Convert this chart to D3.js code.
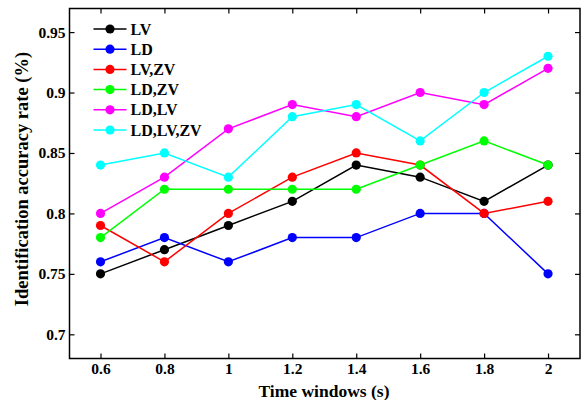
<!DOCTYPE html>
<html>
<head>
<meta charset="utf-8">
<script src="https://cdn.jsdelivr.net/npm/d3@7"></script>
<style>
  body { margin: 0; background: #fff; }
  text { font-family: "Liberation Serif", "Times New Roman", serif; font-weight: bold; }
</style>
</head>
<body>
<svg id="chart"></svg>
<script>
const W = 585, H = 400;

const timeWindows = [0.6, 0.8, 1.0, 1.2, 1.4, 1.6, 1.8, 2.0];
const xTicks = [0.6, 0.8, 1, 1.2, 1.4, 1.6, 1.8, 2];
const yTicks = [0.7, 0.75, 0.8, 0.85, 0.9, 0.95];

const seriesNames  = ['LV', 'LD', 'LV,ZV', 'LD,ZV', 'LD,LV', 'LD,LV,ZV'];
const seriesColors = ['#000000', '#0000ff', '#ff0000', '#00ff00', '#ff00ff', '#00ffff'];

const lv     = [0.75, 0.77, 0.79, 0.81, 0.84, 0.83, 0.81, 0.84];
const ld     = [0.76, 0.78, 0.76, 0.78, 0.78, 0.80, 0.80, 0.75];
const lvzv   = [0.79, 0.76, 0.80, 0.83, 0.85, 0.84, 0.80, 0.81];
const ldzv   = [0.78, 0.82, 0.82, 0.82, 0.82, 0.84, 0.86, 0.84];
const ldlv   = [0.80, 0.83, 0.87, 0.89, 0.88, 0.90, 0.89, 0.92];
const ldlvzv = [0.84, 0.85, 0.83, 0.88, 0.89, 0.86, 0.90, 0.93];

const seriesValues = [lv, ld, lvzv, ldzv, ldlv, ldlvzv];

const margin = { left: 69.5, right: 5, top: 8.5, bottom: 41.5 };
const plotW = W - margin.left - margin.right;
const plotH = H - margin.top - margin.bottom;

const svg = d3.select('#chart').attr('width', W).attr('height', H);
const g = svg.append('g').attr('transform', `translate(${margin.left},${margin.top})`);

const x = d3.scaleLinear().domain([0.503, 2.1]).range([0, plotW]);
const y = d3.scaleLinear().domain([0.68, 0.9695]).range([plotH, 0]);

const fmt = d => String(d);

// ── Axes (ticks pointing inward) ──
const tickLen = 5;
g.append('g').attr('transform', `translate(0,${plotH})`)
    .call(d3.axisBottom(x).tickValues(xTicks).tickFormat(fmt).tickSizeInner(-tickLen).tickSizeOuter(0).tickPadding(4))
    .call(a => a.select('.domain').remove());
g.append('g')
    .call(d3.axisTop(x).tickValues(xTicks).tickFormat('').tickSizeInner(-tickLen).tickSizeOuter(0))
    .call(a => a.select('.domain').remove());
g.append('g')
    .call(d3.axisLeft(y).tickValues(yTicks).tickFormat(fmt).tickSizeInner(-tickLen).tickSizeOuter(0).tickPadding(4))
    .call(a => a.select('.domain').remove());
g.append('g').attr('transform', `translate(${plotW},0)`)
    .call(d3.axisRight(y).tickValues(yTicks).tickFormat('').tickSizeInner(-tickLen).tickSizeOuter(0))
    .call(a => a.select('.domain').remove());

g.selectAll('.tick line').attr('stroke', '#000').attr('stroke-width', 1.2);
g.selectAll('.tick text').attr('font-size', 15.5).attr('fill', '#000')
    .style('font-family', '"Liberation Serif", serif').style('font-weight', 'bold');

g.append('rect')
    .attr('width', plotW).attr('height', plotH)
    .attr('fill', 'none').attr('stroke', '#000').attr('stroke-width', 1.5);

// ── Series ──
const line = d3.line().x((d, i) => x(timeWindows[i])).y(d => y(d));

seriesValues.forEach((vals, k) => {
    g.append('path')
        .datum(vals)
        .attr('d', line)
        .attr('fill', 'none')
        .attr('stroke', seriesColors[k])
        .attr('stroke-width', 1.5);
    g.append('g').selectAll('circle')
        .data(vals)
        .join('circle')
        .attr('cx', (d, i) => x(timeWindows[i]))
        .attr('cy', d => y(d))
        .attr('r', 4.6)
        .attr('fill', seriesColors[k]);
});

// ── Legend ──
const legend = g.append('g').attr('transform', 'translate(24,20.5)');
seriesNames.forEach((name, k) => {
    const row = legend.append('g').attr('transform', `translate(0,${k * 20.2})`);
    row.append('line').attr('x1', 0).attr('x2', 33)
        .attr('stroke', seriesColors[k]).attr('stroke-width', 1.5);
    row.append('circle').attr('cx', 16.5).attr('r', 4.6).attr('fill', seriesColors[k]);
    row.append('text').attr('x', 37).attr('dy', '0.35em')
        .attr('font-size', 16).text(name);
});

// ── Axis titles ──
svg.append('text')
    .attr('x', 324)
    .attr('y', 397)
    .attr('text-anchor', 'middle')
    .attr('font-size', 17.5)
    .text('Time windows (s)');

svg.append('text')
    .attr('transform', `translate(28,179) rotate(-90)`)
    .attr('text-anchor', 'middle')
    .attr('font-size', 18.5)
    .text('Identification accuracy rate (%)');
</script>
</body>
</html>
